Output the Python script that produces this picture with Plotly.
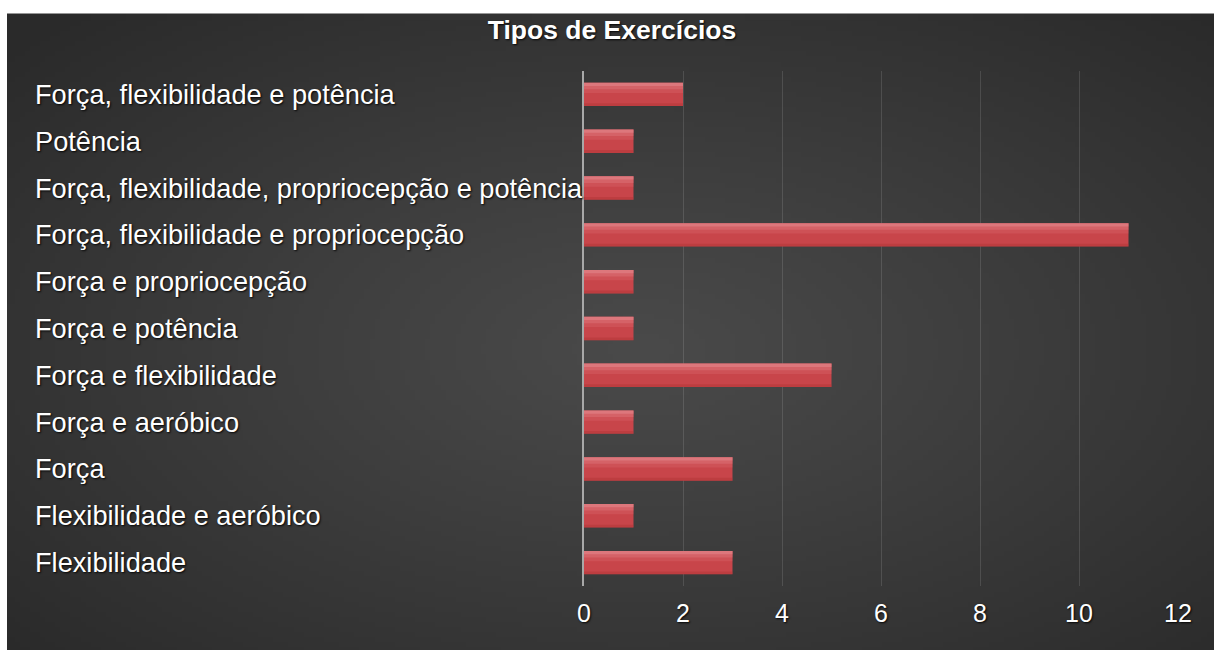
import base64
import struct
import zlib

import numpy as np
import plotly.graph_objects as go

# ---------------- data ----------------
categories = [
    "Flexibilidade",
    "Flexibilidade e aeróbico",
    "Força",
    "Força e aeróbico",
    "Força e flexibilidade",
    "Força e potência",
    "Força e propriocepção",
    "Força, flexibilidade e propriocepção",
    "Força, flexibilidade, propriocepção e potência",
    "Potência",
    "Força, flexibilidade e potência",
]
values = [3, 1, 3, 1, 5, 1, 1, 11, 1, 1, 2]
x_ticks = [0, 2, 4, 6, 8, 10, 12]
title_text = "Tipos de Exercícios"

# ---------------- background gradient image (radial dark gray) ----------------
W, H = 240, 128
u = (np.arange(W) + 0.5) / W
v = (np.arange(H) + 0.5) / H
U, V = np.meshgrid(u, v)
r = np.sqrt(((U - 0.52) / 0.5) ** 2 + ((V - 0.52) / 0.5) ** 2) / np.sqrt(2)
c = 74 - 32 * np.clip(r, 0, 1) ** 1.1
arr = np.clip(np.stack([c, c, c], axis=-1), 0, 255).astype(np.uint8)


def png_data_uri(a):
    h, w, _ = a.shape
    raw = b"".join(b"\x00" + a[i].tobytes() for i in range(h))

    def chunk(tag, data):
        return (struct.pack(">I", len(data)) + tag + data
                + struct.pack(">I", zlib.crc32(tag + data) & 0xFFFFFFFF))

    png = (b"\x89PNG\r\n\x1a\n"
           + chunk(b"IHDR", struct.pack(">IIBBBBB", w, h, 8, 2, 0, 0, 0))
           + chunk(b"IDAT", zlib.compress(raw, 9))
           + chunk(b"IEND", b""))
    return "data:image/png;base64," + base64.b64encode(png).decode()


bg_uri = png_data_uri(arr)

# ---------------- layout geometry ----------------
FIG_W, FIG_H = 1214, 650
m_l, m_r, m_t, m_b = 584, 36, 70.5, 63.5
plot_w = FIG_W - m_l - m_r
plot_h = FIG_H - m_t - m_b

dark_x0, dark_y0 = 7, 13  # dark panel top-left in pixels


def px_x(p):
    return (p - m_l) / plot_w


def px_y(p):
    return (FIG_H - m_b - p) / plot_h


shadow = "1px 1px 2px rgba(0,0,0,0.9)"
FONT = "Liberation Sans, Arial, sans-serif"

fig = go.Figure()
fig.add_trace(go.Bar(
    y=categories,
    x=values,
    orientation="h",
    width=0.5,
    marker=dict(color="#c8454a", line=dict(width=0)),
    hoverinfo="x+y",
))
# layered highlight strips to imitate the vertical gradient of the bars
for off, wd, col in [
    (0.03, 0.22, "rgba(222,110,115,0.30)"),
    (0.11, 0.14, "rgba(226,125,130,0.40)"),
    (0.18, 0.07, "rgba(230,140,145,0.50)"),
    (-0.25, 0.06, "rgba(170,45,45,0.35)"),
]:
    fig.add_trace(go.Bar(
        y=categories,
        x=values,
        orientation="h",
        width=wd,
        offset=off,
        marker=dict(color=col, line=dict(width=0)),
        hoverinfo="skip",
    ))

annotations = []
for cat in categories:
    annotations.append(dict(
        x=px_x(33), xref="paper", xanchor="left",
        y=cat, yref="y", yanchor="middle",
        text=cat, showarrow=False,
        font=dict(family=FONT, size=27.2, color="#ffffff", shadow=shadow),
    ))

# white page strips at top and left of the dark panel
shapes = [
    dict(type="rect", xref="paper", yref="paper", layer="above",
         x0=px_x(-5), x1=px_x(FIG_W + 5), y0=px_y(dark_y0), y1=px_y(-5),
         fillcolor="#ffffff", line=dict(width=0)),
    dict(type="rect", xref="paper", yref="paper", layer="above",
         x0=px_x(-5), x1=px_x(dark_x0), y0=px_y(FIG_H + 5), y1=px_y(-5),
         fillcolor="#ffffff", line=dict(width=0)),
]

fig.update_layout(
    width=FIG_W, height=FIG_H,
    margin=dict(l=m_l, r=m_r, t=m_t, b=m_b, pad=0),
    paper_bgcolor="#2b2b2b",
    plot_bgcolor="rgba(0,0,0,0)",
    barmode="overlay",
    showlegend=False,
    title=dict(
        text="<b>" + title_text + "</b>",
        x=612 / FIG_W, xref="container", xanchor="center",
        y=1 - 30 / FIG_H, yref="container", yanchor="middle",
        font=dict(family=FONT, size=26.5, color="#ffffff", shadow=shadow),
    ),
    images=[dict(
        source=bg_uri,
        xref="paper", yref="paper",
        x=px_x(dark_x0),
        y=px_y(dark_y0),
        sizex=(FIG_W + 10 - dark_x0) / plot_w,
        sizey=(FIG_H + 10 - dark_y0) / plot_h,
        xanchor="left", yanchor="top",
        sizing="stretch", layer="below",
    )],
    shapes=shapes,
    annotations=annotations,
    xaxis=dict(
        range=[0, 12.0],
        tickvals=x_ticks,
        ticktext=[str(t) for t in x_ticks],
        showgrid=True,
        gridcolor="rgba(255,255,255,0.12)",
        gridwidth=1,
        zeroline=False,
        showline=False,
        ticks="",
        ticklabelstandoff=10,
        tickfont=dict(family=FONT, size=25, color="#ffffff", shadow=shadow),
    ),
    yaxis=dict(
        range=[-0.5, len(categories) - 0.5],
        showticklabels=False,
        showgrid=False,
        zeroline=False,
        showline=True,
        linecolor="#a8a8a8",
        linewidth=2,
        ticks="",
    ),
)

fig.write_html("out.html")
